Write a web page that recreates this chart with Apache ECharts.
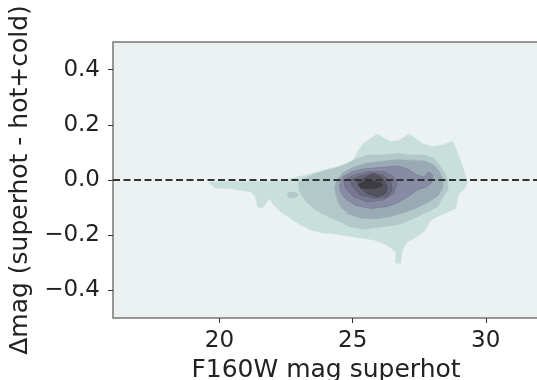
<!DOCTYPE html>
<html>
<head>
<meta charset="utf-8">
<script src="https://cdn.jsdelivr.net/npm/echarts@6/dist/echarts.min.js"></script>
<style>
  html, body { margin: 0; padding: 0; background: #fff; }
  #chart { width: 537px; height: 380px; }
</style>
</head>
<body>
<div id="chart"></div>
<script>
// contour levels of the density, outer to inner, in data units [mag, dmag]
const contourL1 = [[19.59,-0.009],[20.03,-0.005],[21.53,-0.005],[22.44,0],[22.97,0.012],[23.74,0.030],[24.12,0.042],[24.64,0.048],[25.02,0.072],[25.22,0.109],[25.41,0.133],[25.67,0.151],[25.93,0.167],[26.19,0.151],[26.44,0.139],[26.77,0.145],[27.13,0.168],[27.35,0.151],[27.60,0.133],[27.99,0.121],[28.38,0.127],[28.76,0.141],[28.90,0.109],[29.09,0.061],[29.22,0.024],[29.31,-0.012],[29.22,-0.030],[29.02,-0.048],[28.94,-0.066],[28.88,-0.103],[28.31,-0.127],[27.94,-0.145],[27.68,-0.187],[27.43,-0.205],[27.06,-0.224],[26.87,-0.254],[26.81,-0.302],[26.62,-0.302],[26.62,-0.260],[26.30,-0.236],[25.80,-0.217],[24.92,-0.205],[24.17,-0.193],[23.91,-0.193],[23.42,-0.181],[23.04,-0.163],[22.66,-0.139],[22.29,-0.115],[21.98,-0.084],[21.88,-0.066],[21.79,-0.079],[21.60,-0.103],[21.43,-0.097],[21.35,-0.061],[21.16,-0.042],[20.52,-0.033],[19.84,-0.029]];
const contourL2 = [[22.97,-0.012],[23.08,0],[23.61,0.024],[24.28,0.042],[24.80,0.061],[25.18,0.079],[25.55,0.091],[26.05,0.091],[26.68,0.097],[27.18,0.091],[27.68,0.091],[28.06,0.079],[28.31,0.048],[28.50,0.018],[28.59,-0.011],[28.58,-0.036],[28.42,-0.058],[28.19,-0.097],[27.68,-0.121],[27.18,-0.145],[26.68,-0.163],[26.05,-0.170],[25.41,-0.178],[24.92,-0.170],[24.55,-0.152],[24.02,-0.130],[23.61,-0.109],[23.23,-0.076],[23.00,-0.040]];
const contourL2b = [[22.53,-0.054],[22.60,-0.045],[22.74,-0.043],[22.90,-0.046],[22.96,-0.054],[22.90,-0.062],[22.74,-0.066],[22.60,-0.063]];
const contourL3 = [[24.32,-0.029],[24.40,0],[24.62,0.025],[25.00,0.045],[25.53,0.062],[26.05,0.067],[26.66,0.074],[27.18,0.072],[27.71,0.069],[28.05,0.054],[28.27,0.029],[28.41,0],[28.39,-0.029],[28.20,-0.058],[27.86,-0.080],[27.48,-0.098],[26.99,-0.116],[26.43,-0.132],[25.86,-0.141],[25.30,-0.138],[24.85,-0.123],[24.55,-0.098],[24.40,-0.065]];
const contourL4 = [[24.51,-0.022],[24.62,0.011],[24.96,0.029],[25.41,0.040],[26.05,0.045],[26.69,0.051],[27.07,0.040],[27.41,0.018],[27.67,0.011],[27.86,0.029],[28.01,0.018],[27.95,-0.011],[27.78,-0.025],[27.45,-0.034],[27.18,-0.054],[26.73,-0.080],[26.32,-0.096],[25.68,-0.103],[25.11,-0.092],[24.70,-0.065],[24.55,-0.043]];
const contourL5 = [[24.73,-0.030],[24.66,0],[25.04,0.018],[25.55,0.030],[26.17,0.030],[26.54,0.012],[26.68,-0.012],[26.54,-0.048],[26.17,-0.072],[25.55,-0.079],[25.04,-0.061]];
const contourL6 = [[24.92,0],[25.22,0.012],[25.68,0.024],[26.12,0.018],[26.43,-0.006],[26.49,-0.036],[26.30,-0.061],[25.79,-0.066],[25.30,-0.054],[24.99,-0.024]];
const contourL7 = [[25.18,-0.006],[25.55,0.012],[25.80,0.024],[26.12,0.006],[26.30,-0.024],[26.24,-0.048],[25.93,-0.061],[25.55,-0.048],[25.30,-0.030]];
const contourL8 = [[25.22,-0.018],[25.41,-0.007],[25.75,-0.005],[26.05,-0.011],[26.13,-0.020],[25.90,-0.029],[25.53,-0.030],[25.30,-0.027]];

const xTicks = [20, 25, 30];
const yTicks = [-0.4, -0.2, 0, 0.2, 0.4];
const refLineX = [16, 32];
const refLineY = 0;

// colours for each filled level (light teal -> dark slate)
const levelColors = ['#c9dfdc', '#b2c8c9', '#b2c8c9', '#9aaab5', '#888ba5', '#77788f', '#66667c', '#53535d', '#3c3c42'];
const levelEdges  = [null, null, null, null, '#7b7e96', '#6b6c84', '#5c5c70', '#48484f', '#333338'];

const polygons = [contourL1, contourL2, contourL2b, contourL3, contourL4, contourL5, contourL6, contourL7, contourL8];

const chart = echarts.init(document.getElementById('chart'), null, { renderer: 'canvas' });
const font = "'DejaVu Sans'";

const fmtY = v => (v < 0 ? '\u2212' : '') + Math.abs(v).toFixed(1);

chart.setOption({
  animation: false,
  textStyle: { fontFamily: font },
  grid: {
    left: 113, right: -2, top: 42, bottom: 62,
    containLabel: false,
    outerBoundsMode: 'none',
    show: true,
    backgroundColor: '#ecf2f2',
    borderColor: '#777',
    borderWidth: 1.5
  },
  xAxis: {
    type: 'value',
    min: 16, max: 32,
    name: 'F160W mag superhot',
    nameLocation: 'middle',
    nameGap: 40,
    nameMoveOverlap: false,
    nameTextStyle: { fontSize: 25, color: '#222', fontFamily: font },
    axisLine: { show: false, onZero: false },
    splitLine: { show: false },
    axisTick: { show: true, length: 5, customValues: xTicks, lineStyle: { color: '#333', width: 1 } },
    axisLabel: { customValues: xTicks, fontSize: 23, color: '#222', margin: 12, fontFamily: font }
  },
  yAxis: {
    type: 'value',
    min: -0.5, max: 0.5,
    name: 'Δmag (superhot - hot+cold)',
    nameLocation: 'middle',
    nameGap: 80,
    nameMoveOverlap: false,
    nameTextStyle: { fontSize: 25, color: '#222', fontFamily: font },
    axisLine: { show: false, onZero: false },
    splitLine: { show: false },
    axisTick: { show: true, length: 5, customValues: yTicks, lineStyle: { color: '#333', width: 1 } },
    axisLabel: { customValues: yTicks, fontSize: 23, color: '#222', margin: 13, formatter: fmtY, fontFamily: font }
  },
  series: [
    {
      type: 'custom',
      coordinateSystem: 'cartesian2d',
      clip: true,
      data: polygons.map((p, i) => [p[0][0], p[0][1], i]),
      encode: { x: 0, y: 1 },
      renderItem: (params, api) => {
        const i = params.dataIndex;
        const pts = polygons[i].map(p => api.coord(p));
        return {
          type: 'polygon',
          shape: { points: pts },
          style: {
            fill: levelColors[i],
            stroke: levelEdges[i] || levelColors[i],
            lineWidth: levelEdges[i] ? 0.8 : 0.5
          }
        };
      },
      z: 2
    },
    {
      type: 'line',
      data: refLineX.map(x => [x, refLineY]),
      symbol: 'none',
      lineStyle: { color: '#333', width: 2, type: [7, 3.5] },
      z: 5
    }
  ]
});
</script>
</body>
</html>
